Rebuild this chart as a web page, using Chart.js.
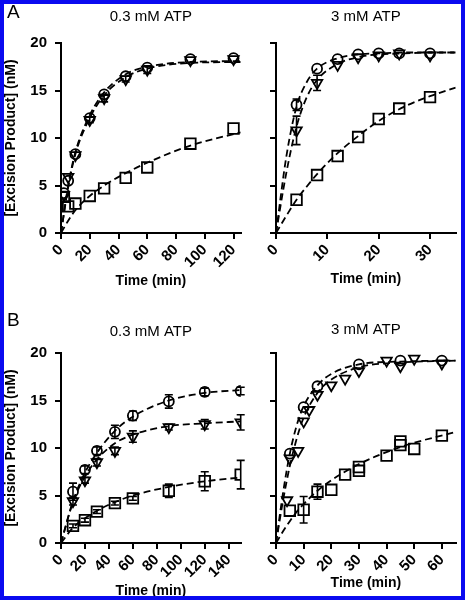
<!DOCTYPE html>
<html>
<head>
<meta charset="utf-8">
<script src="https://cdn.jsdelivr.net/npm/chart.js@4.4.1/dist/chart.umd.min.js"></script>
<style>
  html, body { margin: 0; padding: 0; background: #fff; }
  #page { position: relative; width: 465px; height: 600px; overflow: hidden; background: #fff; }
  .panel { position: absolute; }
  .letter { position: absolute; font: 19px 'Liberation Sans', Arial, sans-serif; line-height: 19px; color: #000; }
  #frame { position: absolute; left: 0; top: 0; width: 465px; height: 600px; box-sizing: border-box; border: 4px solid #0a0af0; pointer-events: none; }
</style>
</head>
<body>
<div id="page">
  <canvas class="panel" id="aLow" width="250" height="300" style="left:0;top:0"></canvas>
  <canvas class="panel" id="aHigh" width="229" height="300" style="left:236px;top:0"></canvas>
  <canvas class="panel" id="bLow" width="250" height="300" style="left:0;top:300px"></canvas>
  <canvas class="panel" id="bHigh" width="229" height="300" style="left:236px;top:300px"></canvas>
  <div class="letter" style="left:7px;top:2px">A</div>
  <div class="letter" style="left:7px;top:310px">B</div>
  <div id="frame"></div>
</div>
<script>
// Panel A, 0.3 mM ATP
const aLowTime = [2, 5, 10, 20, 30, 45, 60, 90, 120];
const aLowCircle = [4.2, 5.5, 8.3, 12.1, 14.6, 16.5, 17.4, 18.3, 18.4];
const aLowTriangle = [4.0, 5.9, 8.2, 11.9, 14.2, 16.2, 17.2, 18.2, 18.3];
const aLowSquare = [3.8, 2.8, 3.1, 3.9, 4.7, 5.8, 6.9, 9.4, 11.0];
const aLowTriangleErr = [0, 0, 0, 0.3, 0.4, 0.3, 0.4, 0, 0];
const aLowFitTime = [0, 5, 10, 20, 30, 45, 60, 90, 125];
const aLowFitCircle = [0, 5.0, 8.5, 12.4, 14.8, 16.7, 17.5, 18.0, 18.1];
const aLowFitTriangle = [0, 4.8, 8.3, 12.1, 14.5, 16.4, 17.3, 17.9, 18.0];
const aLowFitSquare = [0, 1.3, 2.4, 3.9, 5.0, 6.3, 7.4, 9.2, 10.6];
const aLowXTicks = [0, 20, 40, 60, 80, 100, 120];

// Panel A, 3 mM ATP
const aHighTime = [4, 8, 12, 16, 20, 24, 30];
const aHighCircle = [13.5, 17.3, 18.3, 18.8, 18.9, 18.9, 18.9];
const aHighTriangle = [10.8, 15.8, 17.7, 18.5, 18.7, 18.9, 18.7];
const aHighSquare = [3.5, 6.1, 8.1, 10.1, 12.0, 13.1, 14.3];
const aHighCircleErr = [0.6, 0, 0, 0, 0, 0, 0];
const aHighTriangleErr = [1.5, 0.8, 0, 0, 0, 0, 0];
const aHighFitTime = [0, 2, 4, 6, 8, 12, 16, 20, 25, 30, 35];
const aHighFitCircle = [0, 8.0, 13.3, 15.9, 17.3, 18.4, 18.8, 18.9, 19.0, 19.0, 19.0];
const aHighFitTriangle = [0, 6.3, 11.2, 14.3, 16.1, 17.8, 18.5, 18.8, 18.9, 19.0, 19.0];
const aHighFitSquare = [0, 1.8, 3.5, 4.9, 6.2, 8.4, 10.2, 11.8, 13.3, 14.4, 15.3];
const aHighXTicks = [0, 10, 20, 30];

// Panel B, 0.3 mM ATP
const bLowTime = [10, 20, 30, 45, 60, 90, 120, 150];
const bLowCircle = [5.4, 7.7, 9.7, 11.7, 13.4, 14.9, 15.9, 16.0];
const bLowTriangle = [4.4, 6.6, 8.5, 9.7, 11.2, 12.2, 12.5, 12.7];
const bLowSquare = [1.8, 2.4, 3.3, 4.2, 4.7, 5.5, 6.5, 7.2];
const bLowCircleErr = [0.9, 0.4, 0.4, 0.7, 0.5, 0.7, 0.4, 0.4];
const bLowTriangleErr = [0.4, 0.3, 0.4, 0.4, 0.6, 0.3, 0.5, 0.8];
const bLowSquareErr = [0.2, 0.2, 0.2, 0.2, 0.2, 0.7, 1.0, 1.5];
const bLowFitTime = [0, 10, 20, 30, 45, 60, 90, 120, 150];
const bLowFitCircle = [0, 4.4, 7.4, 9.5, 11.8, 13.3, 15.0, 15.8, 16.1];
const bLowFitTriangle = [0, 4.3, 7.0, 8.8, 10.5, 11.4, 12.3, 12.6, 12.8];
const bLowFitSquare = [0, 1.6, 2.6, 3.4, 4.3, 5.0, 5.9, 6.5, 6.9];
const bLowXTicks = [0, 20, 40, 60, 80, 100, 120, 140];

// Panel B, 3 mM ATP
const bHighCircleTime = [5, 10, 15, 30, 45, 60];
const bHighCircle = [9.4, 14.3, 16.5, 18.8, 19.2, 19.2];
const bHighTriangleTime = [4, 5, 8, 10, 12, 15, 20, 25, 30, 40, 45, 50, 60];
const bHighTriangle = [4.5, 8.9, 9.7, 12.8, 14.0, 15.6, 16.6, 17.3, 18.1, 19.2, 18.6, 19.4, 18.9];
const bHighSquareTime = [5, 10, 15, 20, 25, 30, 30, 40, 45, 45, 50, 60];
const bHighSquare = [3.4, 3.5, 5.4, 5.6, 7.2, 7.6, 8.0, 9.2, 10.3, 10.7, 9.9, 11.3];
const bHighSquareErr = [0, 1.4, 0.8, 0, 0, 0, 0, 0, 0, 0, 0, 0];
const bHighFitTime = [0, 2.5, 5, 7.5, 10, 15, 20, 30, 45, 65];
const bHighFitCircle = [0, 5.2, 9.4, 12.4, 14.4, 16.6, 17.8, 18.8, 19.1, 19.2];
const bHighFitTriangle = [0, 4.4, 8.1, 11.0, 13.2, 15.8, 17.2, 18.5, 19.0, 19.2];
const bHighFitSquare = [0, 1.2, 2.3, 3.3, 4.1, 5.5, 6.6, 8.3, 10.1, 11.7];
const bHighXTicks = [0, 10, 20, 30, 40, 50, 60];

const yTicks = [0, 5, 10, 15, 20];
const FONT = "'Liberation Sans', Arial, sans-serif";

const pts = (xs, ys) => xs.map((x, i) => ({ x: x, y: ys[i] }));

// vertical error bars drawn through the chart's own scales
const errorBars = {
    id: 'errorBars',
    afterDatasetsDraw(chart) {
        const ctx = chart.ctx;
        const x = chart.scales.x, y = chart.scales.y;
        ctx.save();
        ctx.strokeStyle = '#000';
        ctx.lineWidth = 1.6;
        chart.data.datasets.forEach(ds => {
            if (!ds.errors) return;
            ds.data.forEach((p, i) => {
                const e = ds.errors[i];
                if (!e) return;
                const px = x.getPixelForValue(p.x);
                const top = y.getPixelForValue(p.y + e);
                const bot = y.getPixelForValue(p.y - e);
                ctx.beginPath();
                ctx.moveTo(px, top); ctx.lineTo(px, bot);
                ctx.moveTo(px - 4, top); ctx.lineTo(px + 4, top);
                ctx.moveTo(px - 4, bot); ctx.lineTo(px + 4, bot);
                ctx.stroke();
            });
        });
        ctx.restore();
    }
};

function markers(data, style, errors) {
    return {
        data: data,
        showLine: false,
        pointStyle: style,
        pointRadius: style === 'rect' ? 7.5 : (style === 'triangle' ? 6 : 5),
        pointRotation: style === 'triangle' ? 180 : 0,
        pointBorderWidth: 1.8,
        pointBorderColor: '#000',
        pointBackgroundColor: 'rgba(255,255,255,0)',
        errors: errors
    };
}

function fit(data) {
    return {
        data: data,
        showLine: true,
        pointRadius: 0,
        borderColor: '#000',
        borderWidth: 1.8,
        borderDash: [7, 4],
        cubicInterpolationMode: 'monotone',
        fill: false
    };
}

function makePanel(id, o) {
    new Chart(document.getElementById(id), {
        type: 'scatter',
        data: { datasets: o.datasets },
        options: {
            responsive: false,
            animation: false,
            layout: { padding: { left: 0, top: 0, right: o.padRight, bottom: 0 } },
            plugins: {
                legend: { display: false },
                tooltip: { enabled: false },
                title: {
                    display: true,
                    text: o.title,
                    fullSize: false,
                    color: '#000',
                    font: { family: FONT, size: 15, weight: 'normal', lineHeight: 1.2 },
                    padding: { top: o.titleTop, bottom: o.titleBottom }
                }
            },
            scales: {
                x: {
                    type: 'linear',
                    min: 0,
                    max: o.xMax,
                    afterFit: s => { s.height = o.xHeight; },
                    afterBuildTicks: s => { s.ticks = o.xTicks.map(v => ({ value: v })); },
                    ticks: {
                        autoSkip: false,
                        minRotation: 45,
                        maxRotation: 45,
                        padding: 2,
                        color: '#000',
                        font: { family: FONT, size: 15, weight: 'bold' }
                    },
                    grid: { drawOnChartArea: false, color: '#000', lineWidth: 2, tickLength: 6 },
                    border: { color: '#000', width: 2 },
                    title: {
                        display: true,
                        text: 'Time (min)',
                        color: '#000',
                        font: { family: FONT, size: 14, weight: 'bold', lineHeight: 1.2 },
                        padding: { top: 0, bottom: o.xTitleBottom }
                    }
                },
                y: {
                    type: 'linear',
                    min: 0,
                    max: 20,
                    afterFit: s => { s.width = o.yWidth; },
                    afterBuildTicks: s => { s.ticks = yTicks.map(v => ({ value: v })); },
                    ticks: {
                        display: o.yLabels,
                        padding: 8,
                        color: '#000',
                        font: { family: FONT, size: 15, weight: 'bold' }
                    },
                    grid: { drawOnChartArea: false, color: '#000', lineWidth: 2, tickLength: 6 },
                    border: { color: '#000', width: 2 },
                    title: {
                        display: o.yLabels,
                        text: '[Excision Product] (nM)',
                        color: '#000',
                        font: { family: FONT, size: 14, weight: 'bold', lineHeight: 1.2 },
                        padding: { top: 3, bottom: 0 }
                    }
                }
            }
        },
        plugins: [errorBars]
    });
}

makePanel('aLow', {
    title: '0.3 mM ATP', xMax: 125, xTicks: aLowXTicks, padRight: 9, yWidth: 61, yLabels: true,
    xHeight: 67, titleTop: 8, titleBottom: 17, xTitleBottom: 10.6,
    datasets: [
        markers(pts(aLowTime, aLowCircle), 'circle'),
        markers(pts(aLowTime, aLowTriangle), 'triangle', aLowTriangleErr),
        markers(pts(aLowTime, aLowSquare), 'rect'),
        fit(pts(aLowFitTime, aLowFitCircle)),
        fit(pts(aLowFitTime, aLowFitTriangle)),
        fit(pts(aLowFitTime, aLowFitSquare))
    ]
});

makePanel('aHigh', {
    title: '3 mM ATP', xMax: 35, xTicks: aHighXTicks, padRight: 0, yWidth: 40, yLabels: false,
    xHeight: 67, titleTop: 8, titleBottom: 17, xTitleBottom: 12.6,
    datasets: [
        markers(pts(aHighTime, aHighCircle), 'circle', aHighCircleErr),
        markers(pts(aHighTime, aHighTriangle), 'triangle', aHighTriangleErr),
        markers(pts(aHighTime, aHighSquare), 'rect'),
        fit(pts(aHighFitTime, aHighFitCircle)),
        fit(pts(aHighFitTime, aHighFitTriangle)),
        fit(pts(aHighFitTime, aHighFitSquare))
    ]
});

makePanel('bLow', {
    title: '0.3 mM ATP', xMax: 150, xTicks: bLowXTicks, padRight: 6.5, yWidth: 61, yLabels: true,
    xHeight: 57, titleTop: 23, titleBottom: 12, xTitleBottom: 0.6,
    datasets: [
        markers(pts(bLowTime, bLowCircle), 'circle', bLowCircleErr),
        markers(pts(bLowTime, bLowTriangle), 'triangle', bLowTriangleErr),
        markers(pts(bLowTime, bLowSquare), 'rect', bLowSquareErr),
        fit(pts(bLowFitTime, bLowFitCircle)),
        fit(pts(bLowFitTime, bLowFitTriangle)),
        fit(pts(bLowFitTime, bLowFitSquare))
    ]
});

makePanel('bHigh', {
    title: '3 mM ATP', xMax: 65, xTicks: bHighXTicks, padRight: 0, yWidth: 40, yLabels: false,
    xHeight: 57, titleTop: 21, titleBottom: 14, xTitleBottom: 8.6,
    datasets: [
        markers(pts(bHighCircleTime, bHighCircle), 'circle'),
        markers(pts(bHighTriangleTime, bHighTriangle), 'triangle'),
        markers(pts(bHighSquareTime, bHighSquare), 'rect', bHighSquareErr),
        fit(pts(bHighFitTime, bHighFitCircle)),
        fit(pts(bHighFitTime, bHighFitTriangle)),
        fit(pts(bHighFitTime, bHighFitSquare))
    ]
});
</script>
</body>
</html>
